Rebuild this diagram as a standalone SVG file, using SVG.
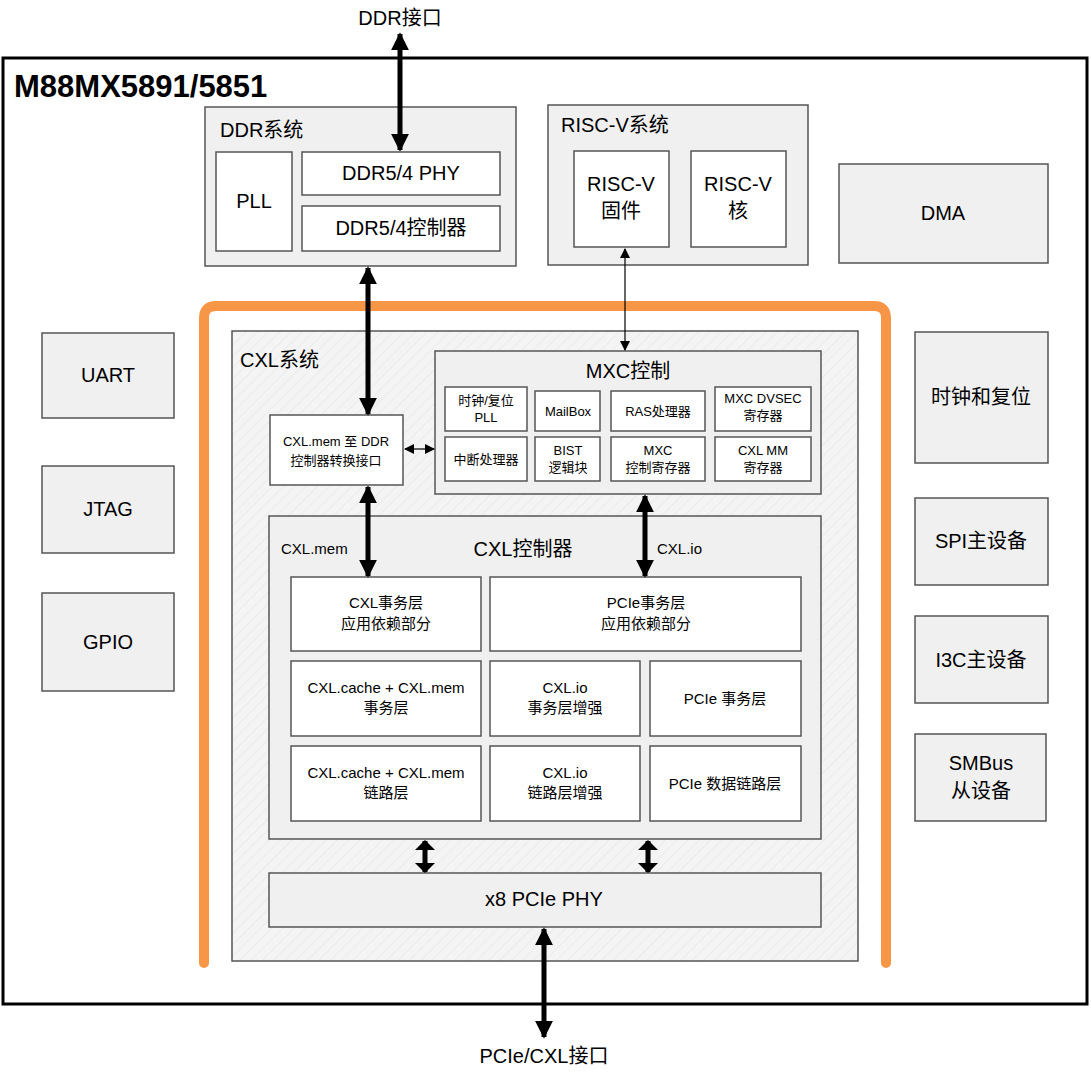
<svg xmlns="http://www.w3.org/2000/svg" width="1091" height="1080" viewBox="0 0 1091 1080">
<defs>
<style>
text{font-family:"Liberation Sans","Noto Sans CJK SC",sans-serif;fill:#000;text-anchor:middle}
.g{fill:#f0f0f0;stroke:#555;stroke-width:1.5}
.w{fill:#fff;stroke:#555;stroke-width:1.5}
.t20{font-size:20px}.t17{font-size:17px}.t13{font-size:13px}.t15{font-size:15px}
.thick{stroke:#000;stroke-width:5;fill:none}
.thin{stroke:#000;stroke-width:1.2;fill:none}
</style>
<pattern id="hatch" width="8" height="8" patternUnits="userSpaceOnUse" patternTransform="rotate(45)">
<rect width="8" height="8" fill="#f4f4f4"/><line x1="0" y1="0" x2="0" y2="8" stroke="#e2e2e2" stroke-width="1"/>
</pattern>
<marker id="bh" viewBox="0 0 10 10" refX="9" refY="5" markerWidth="18" markerHeight="18" markerUnits="userSpaceOnUse" orient="auto-start-reverse"><path d="M0,0L10,5L0,10Z" fill="#000"/></marker>
<marker id="mh" viewBox="0 0 10 10" refX="9" refY="5" markerWidth="10" markerHeight="20" markerUnits="userSpaceOnUse" orient="auto-start-reverse" preserveAspectRatio="none"><path d="M0,0L10,5L0,10Z" fill="#000"/></marker>
<marker id="sh" viewBox="0 0 10 10" refX="9" refY="5" markerWidth="10" markerHeight="10" markerUnits="userSpaceOnUse" orient="auto-start-reverse"><path d="M0,0L10,5L0,10Z" fill="#000"/></marker>
</defs>
<rect width="1091" height="1080" fill="#fff"/>
<rect x="3" y="58" width="1084" height="946" fill="#fff" stroke="#000" stroke-width="3"/>
<text x="14" y="97" style="font-size:31px;font-weight:bold;text-anchor:start">M88MX5891/5851</text>
<text x="400" y="25" class="t20">DDR接口</text>
<text x="544" y="1063" class="t20">PCIe/CXL接口</text>

<g id="ddr-sys"><rect class="g" x="205" y="107" width="311" height="159"/><text x="220" y="137" class="t20" style="text-anchor:start">DDR系统</text></g>
<g id="pll"><rect class="w" x="216" y="152" width="76" height="99"/><text x="254" y="208" class="t20">PLL</text></g>
<g id="ddr-phy"><rect class="w" x="302" y="152" width="198" height="43"/><text x="401" y="180" class="t20">DDR5/4 PHY</text></g>
<g id="ddr-ctrl"><rect class="w" x="302" y="206" width="198" height="45"/><text x="401" y="235" class="t20">DDR5/4控制器</text></g>

<g id="riscv-sys"><rect class="g" x="548" y="105" width="260" height="160"/><text x="561" y="132" class="t20" style="text-anchor:start">RISC-V系统</text></g>
<g id="riscv-fw"><rect class="w" x="574" y="151" width="95" height="96"/><text x="621" y="191" class="t20">RISC-V</text><text x="621" y="218" class="t20">固件</text></g>
<g id="riscv-core"><rect class="w" x="691" y="151" width="95" height="96"/><text x="738" y="191" class="t20">RISC-V</text><text x="738" y="218" class="t20">核</text></g>
<g id="dma"><rect class="g" x="839" y="164" width="209" height="99"/><text x="943" y="220" class="t20">DMA</text></g>

<g id="uart"><rect class="g" x="42" y="333" width="132" height="85"/><text x="108" y="382" class="t20">UART</text></g>
<g id="jtag"><rect class="g" x="42" y="466" width="132" height="87"/><text x="108" y="516" class="t20">JTAG</text></g>
<g id="gpio"><rect class="g" x="42" y="593" width="132" height="98"/><text x="108" y="649" class="t20">GPIO</text></g>
<g id="clk-rst"><rect class="g" x="915" y="332" width="133" height="131"/><text x="981" y="404" class="t20">时钟和复位</text></g>
<g id="spi"><rect class="g" x="915" y="498" width="133" height="87"/><text x="981" y="548" class="t20">SPI主设备</text></g>
<g id="i3c"><rect class="g" x="915" y="616" width="133" height="87"/><text x="981" y="667" class="t20">I3C主设备</text></g>
<g id="smbus"><rect class="g" x="915" y="734" width="131" height="87"/><text x="981" y="770" class="t20">SMBus</text><text x="981" y="798" class="t20">从设备</text></g>

<path d="M204,963V318Q204,306 216,306H874Q886,306 886,318V963" fill="none" stroke="#f79646" stroke-width="10" stroke-linecap="round"/>
<g id="cxl-sys"><rect x="232" y="331" width="626" height="630" fill="url(#hatch)" stroke="#555" stroke-width="1.5"/><text x="240" y="367" class="t20" style="text-anchor:start">CXL系统</text></g>

<g id="mxc"><rect class="g" x="435" y="351" width="386" height="143"/><text x="628" y="378" class="t20">MXC控制</text></g>
<g id="mxc-clk"><rect class="w" x="445" y="387" width="82" height="44"/><text x="486" y="405" class="t13">时钟/复位</text><text x="486" y="422" class="t13">PLL</text></g>
<g id="mailbox"><rect class="w" x="535" y="391" width="65" height="40"/><text x="568" y="416" class="t13">MailBox</text></g>
<g id="ras"><rect class="w" x="611" y="391" width="94" height="40"/><text x="658" y="416" class="t13">RAS处理器</text></g>
<g id="dvsec"><rect class="w" x="715" y="387" width="96" height="44"/><text x="763" y="403" class="t13">MXC DVSEC</text><text x="763" y="420" class="t13">寄存器</text></g>
<g id="irq"><rect class="w" x="445" y="437" width="82" height="44"/><text x="486" y="464" class="t13">中断处理器</text></g>
<g id="bist"><rect class="w" x="535" y="437" width="65" height="44"/><text x="568" y="455" class="t13">BIST</text><text x="568" y="472" class="t13">逻辑块</text></g>
<g id="mxc-reg"><rect class="w" x="611" y="437" width="94" height="44"/><text x="658" y="455" class="t13">MXC</text><text x="658" y="472" class="t13">控制寄存器</text></g>
<g id="mm-reg"><rect class="w" x="715" y="437" width="96" height="44"/><text x="763" y="455" class="t13">CXL MM</text><text x="763" y="472" class="t13">寄存器</text></g>

<g id="conv"><rect class="w" x="270" y="415" width="133" height="70"/><text x="336" y="446" class="t13">CXL.mem 至 DDR</text><text x="336" y="465" class="t13">控制器转换接口</text></g>

<g id="cxl-ctrl"><rect class="g" x="269" y="516" width="552" height="323"/><text x="523" y="556" class="t20">CXL控制器</text><text x="281" y="554" class="t15" style="text-anchor:start">CXL.mem</text><text x="657" y="554" class="t15" style="text-anchor:start">CXL.io</text></g>
<g id="cxl-tl-app"><rect class="w" x="291" y="577" width="190" height="74"/><text x="386" y="608" class="t15">CXL事务层</text><text x="386" y="629" class="t15">应用依赖部分</text></g>
<g id="pcie-tl-app"><rect class="w" x="490" y="577" width="311" height="74"/><text x="646" y="608" class="t15">PCIe事务层</text><text x="646" y="629" class="t15">应用依赖部分</text></g>
<g id="cm-tl"><rect class="w" x="291" y="661" width="190" height="75"/><text x="386" y="693" class="t15">CXL.cache + CXL.mem</text><text x="386" y="713" class="t15">事务层</text></g>
<g id="io-tl"><rect class="w" x="490" y="661" width="150" height="75"/><text x="565" y="693" class="t15">CXL.io</text><text x="565" y="713" class="t15">事务层增强</text></g>
<g id="pcie-tl"><rect class="w" x="650" y="661" width="151" height="75"/><text x="725" y="704" class="t15">PCIe 事务层</text></g>
<g id="cm-ll"><rect class="w" x="291" y="746" width="190" height="75"/><text x="386" y="778" class="t15">CXL.cache + CXL.mem</text><text x="386" y="798" class="t15">链路层</text></g>
<g id="io-ll"><rect class="w" x="490" y="746" width="150" height="75"/><text x="565" y="778" class="t15">CXL.io</text><text x="565" y="798" class="t15">链路层增强</text></g>
<g id="pcie-ll"><rect class="w" x="650" y="746" width="151" height="75"/><text x="725" y="789" class="t15">PCIe 数据链路层</text></g>
<g id="phy"><rect class="g" x="269" y="873" width="552" height="54"/><text x="544" y="906" class="t20">x8 PCIe PHY</text></g>

<g id="connectors">
<line class="thick" x1="400" y1="34" x2="400" y2="150" marker-start="url(#bh)" marker-end="url(#bh)"/>
<line class="thick" x1="368" y1="268" x2="368" y2="414" marker-start="url(#bh)" marker-end="url(#bh)"/>
<line class="thin" x1="625" y1="249" x2="625" y2="350" marker-start="url(#sh)" marker-end="url(#sh)"/>
<line class="thin" x1="405" y1="449" x2="434" y2="449" marker-start="url(#sh)" marker-end="url(#sh)"/>
<line class="thick" x1="368" y1="487" x2="368" y2="576" marker-start="url(#bh)" marker-end="url(#bh)"/>
<line class="thick" x1="645" y1="496" x2="645" y2="576" marker-start="url(#bh)" marker-end="url(#bh)"/>
<line class="thick" x1="425" y1="841" x2="425" y2="872" marker-start="url(#mh)" marker-end="url(#mh)"/>
<line class="thick" x1="648" y1="841" x2="648" y2="872" marker-start="url(#mh)" marker-end="url(#mh)"/>
<line class="thick" x1="544" y1="929" x2="544" y2="1037" marker-start="url(#bh)" marker-end="url(#bh)"/>
</g>
</svg>
